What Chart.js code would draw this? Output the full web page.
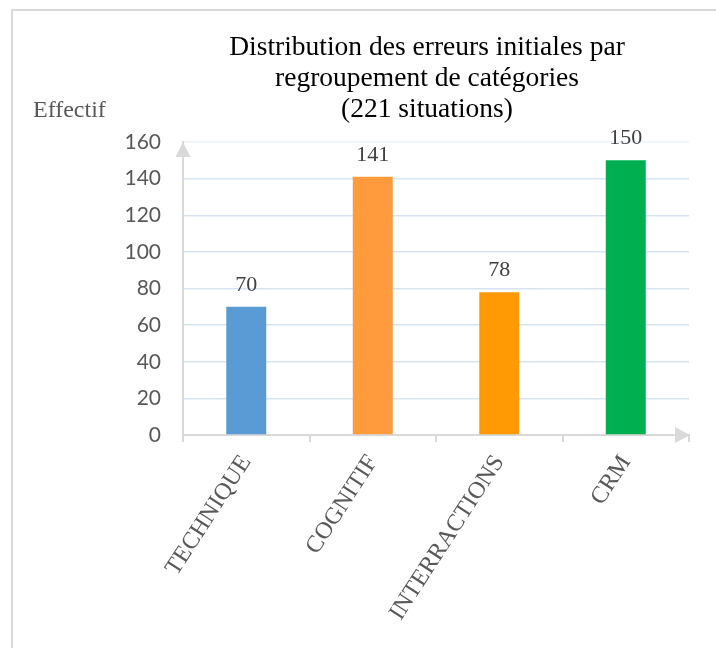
<!DOCTYPE html>
<html lang="fr">
<head>
<meta charset="utf-8">
<title>Distribution des erreurs initiales</title>
<script src="https://cdn.jsdelivr.net/npm/chart.js@4.4.1/dist/chart.umd.min.js"></script>
<style>
  html, body { margin: 0; padding: 0; background: #fff; overflow: hidden; }
  #graphe { display: block; }
</style>
</head>
<body>
<canvas id="graphe" width="716" height="648"></canvas>
<script>
const categories = ['TECHNIQUE', 'COGNITIF', 'INTERRACTIONS', 'CRM'];
const effectifs = [70, 141, 78, 150];
const couleurs = ['#5B9BD5', '#FF9A3D', '#FF9A05', '#00B050'];
const titre = ['Distribution des erreurs initiales par', 'regroupement de catégories', '(221 situations)'];
const titreAxeY = 'Effectif';
const yMax = 160;
const yPas = 20;

const gris = '#D9D9D9';
const serif = "'Liberation Serif', 'Times New Roman', serif";
const sans = "Lato, 'Liberation Sans', sans-serif";

// cadre, titre, "Effectif", fleches des axes et valeurs des barres
const decor = {
    id: 'decor',
    beforeDraw(chart) {
        const c = chart.ctx;
        c.save();
        c.strokeStyle = gris;
        c.lineWidth = 2;
        c.beginPath();
        c.moveTo(12, chart.height);
        c.lineTo(12, 10);
        c.lineTo(chart.width, 10);
        c.stroke();
        c.restore();
    },
    afterDraw(chart) {
        const c = chart.ctx;
        const area = chart.chartArea;
        c.save();

        c.fillStyle = '#000';
        c.font = '27.5px ' + serif;
        c.textAlign = 'center';
        c.textBaseline = 'alphabetic';
        titre.forEach((ligne, i) => c.fillText(ligne, 427, 55 + i * 31));

        c.fillStyle = '#595959';
        c.font = '24px ' + serif;
        c.textAlign = 'left';
        c.fillText(titreAxeY, 33, 117);

        // fleches
        c.fillStyle = gris;
        c.beginPath();
        c.moveTo(area.left, area.top);
        c.lineTo(area.left - 7.5, area.top + 15);
        c.lineTo(area.left + 7.5, area.top + 15);
        c.fill();
        c.beginPath();
        c.moveTo(area.right + 1, area.bottom);
        c.lineTo(area.right - 14, area.bottom - 8);
        c.lineTo(area.right - 14, area.bottom + 8);
        c.fill();

        // valeurs
        c.fillStyle = '#404040';
        c.font = '22px ' + serif;
        c.textAlign = 'center';
        const meta = chart.getDatasetMeta(0);
        meta.data.forEach((barre, i) => {
            c.fillText(String(effectifs[i]), barre.x, barre.y - 16);
        });
        c.restore();
    }
};

const graphe = new Chart(document.getElementById('graphe'), {
    type: 'bar',
    data: {
        labels: categories,
        datasets: [{
            data: effectifs,
            backgroundColor: couleurs,
            borderWidth: 0,
            barPercentage: 0.316,
            categoryPercentage: 1
        }]
    },
    options: {
        responsive: false,
        animation: false,
        devicePixelRatio: 1,
        layout: { padding: { top: 142, left: 126, right: 27, bottom: 0 } },
        plugins: {
            legend: { display: false },
            tooltip: { enabled: false },
            title: { display: false }
        },
        scales: {
            x: {
                offset: true,
                grid: {
                    display: true,
                    drawOnChartArea: false,
                    drawTicks: true,
                    tickLength: 7,
                    color: gris,
                    lineWidth: 2
                },
                border: { display: true, color: gris, width: 2 },
                ticks: {
                    color: '#595959',
                    font: { family: serif, size: 24 },
                    minRotation: 57,
                    maxRotation: 57,
                    padding: 8,
                    autoSkip: false
                },
                afterFit(s) { s.height = 213; }
            },
            y: {
                min: 0,
                max: yMax,
                ticks: {
                    stepSize: yPas,
                    color: '#595959',
                    font: { family: sans, size: 21 },
                    padding: 22
                },
                grid: {
                    color: (ctx) => (ctx.tick && ctx.tick.value === yMax ? '#EEF3FA' : '#D6E3F3'),
                    lineWidth: 1.5,
                    drawTicks: false
                },
                border: { display: true, color: gris, width: 2 },
                afterFit(s) { s.width = 57; }
            }
        }
    },
    plugins: [decor]
});
</script>
</body>
</html>
